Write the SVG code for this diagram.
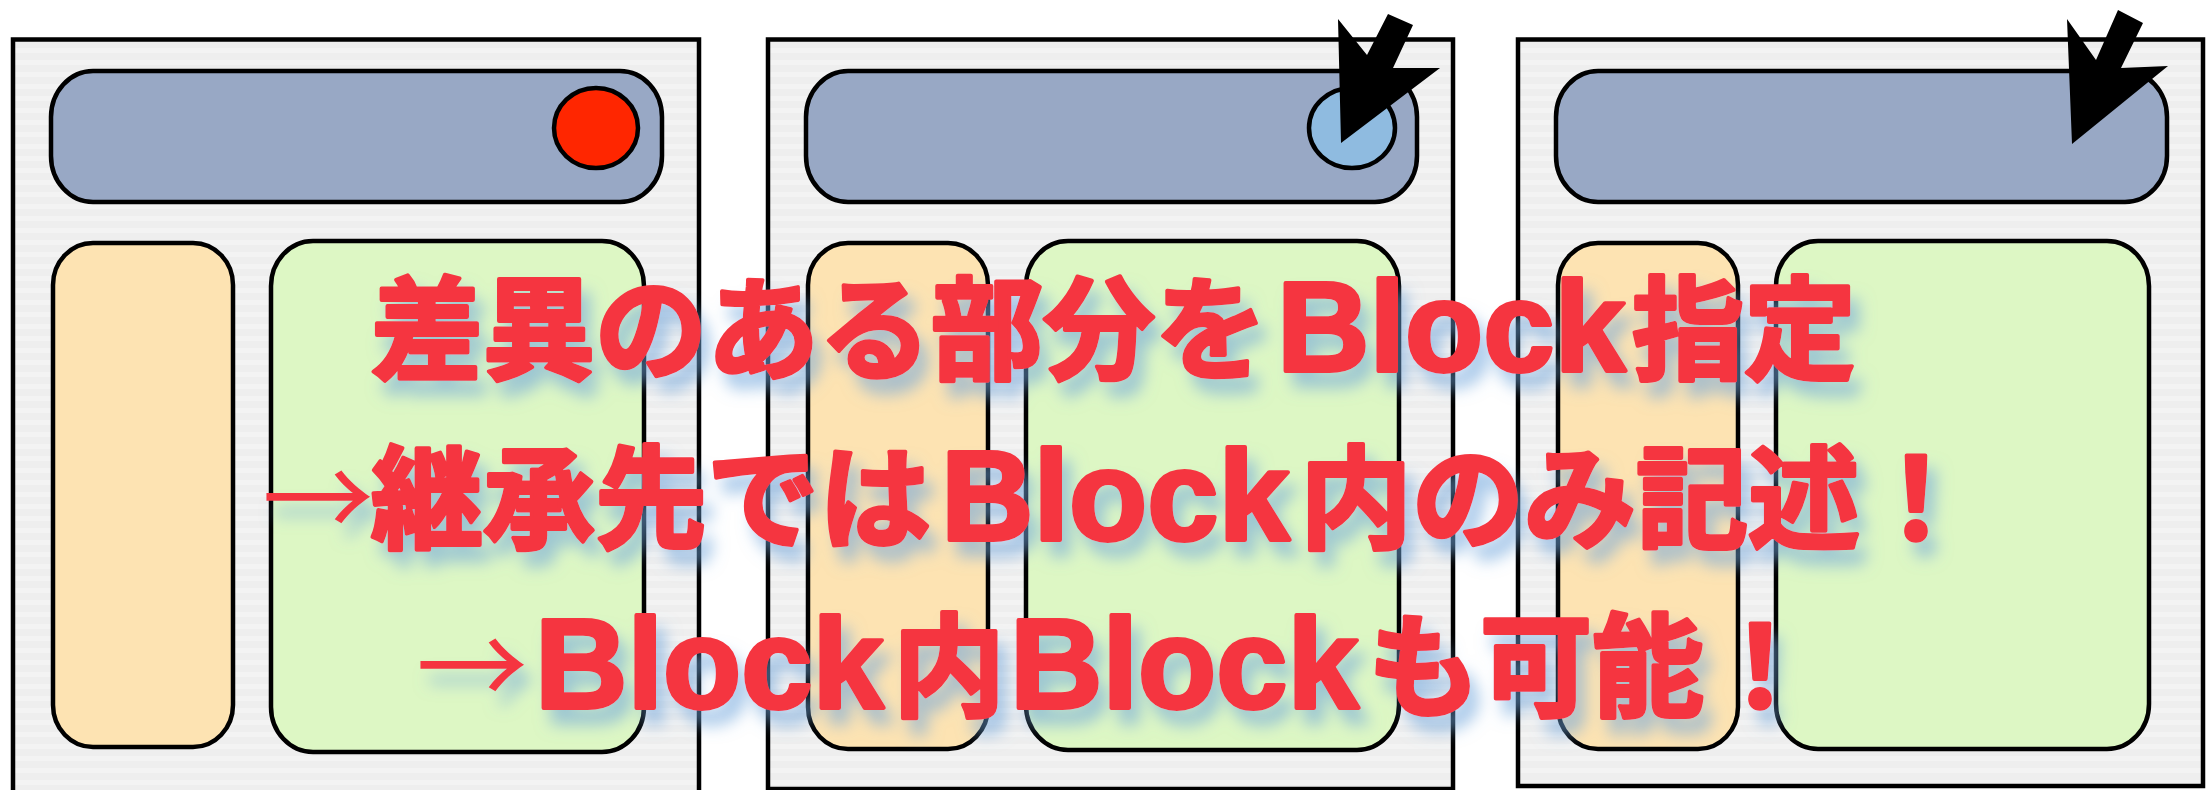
<svg xmlns="http://www.w3.org/2000/svg" width="2206" height="790" viewBox="0 0 2206 790">
  <defs>
    <pattern id="stripes" width="12" height="12" patternUnits="userSpaceOnUse">
      <rect width="12" height="12" fill="#eeeeee"/>
      <rect y="0" width="12" height="5" fill="#f3f3f3"/>
    </pattern>
    <filter id="shadow" x="-10%" y="-30%" width="125%" height="180%">
      <feDropShadow dx="9" dy="15" stdDeviation="8" flood-color="#6fa6dc" flood-opacity="0.6"/>
    </filter>
    <style>
      .panel { fill: url(#stripes); stroke: #000; stroke-width: 4.5; }
      .header { fill: #98a8c5; stroke: #000; stroke-width: 4.5; }
      .side { fill: #fde3b2; stroke: #000; stroke-width: 4.5; }
      .main { fill: #ddf7c4; stroke: #000; stroke-width: 4.5; }
      .dot { stroke: #000; stroke-width: 4.5; }
      .pointer { fill: #000; stroke: none; }
      .cap { fill: #f53641; stroke: #f53641; stroke-width: 4; stroke-linejoin: round; font-family: "Noto Sans CJK JP", sans-serif; font-weight: bold; font-size: 112px; }
      .lat { font-family: "Liberation Sans", "Noto Sans CJK JP", sans-serif; font-weight: bold; font-size: 128px; }
      .arr { font-family: "Noto Sans CJK JP", sans-serif; font-weight: normal; font-size: 112px; stroke-width: 0; }
    </style>
  </defs>

  <g id="panel-1">
    <rect class="panel" x="13" y="39.5" width="686" height="800"/>
    <g id="header-1"><rect class="header" x="51" y="71" width="611" height="131" rx="42" ry="46"/></g>
    <g id="button-1"><ellipse class="dot" cx="596" cy="128" rx="42" ry="40" fill="#ff2600"/></g>
    <g id="side-1"><rect class="side" x="53" y="243" width="180" height="504" rx="40" ry="42"/></g>
    <g id="main-1"><rect class="main" x="271" y="241" width="373" height="511" rx="42" ry="45"/></g>
  </g>

  <g id="panel-2">
    <rect class="panel" x="768" y="39.5" width="685" height="749.5"/>
    <g id="header-2"><rect class="header" x="806" y="71" width="611" height="131" rx="42" ry="46"/></g>
    <g id="button-2"><ellipse class="dot" cx="1352" cy="128" rx="43" ry="40" fill="#8fbbe0"/></g>
    <g id="side-2"><rect class="side" x="808" y="243" width="180" height="506" rx="40" ry="42"/></g>
    <g id="main-2"><rect class="main" x="1026" y="241" width="373" height="509" rx="42" ry="45"/></g>
  </g>

  <g id="panel-3">
    <rect class="panel" x="1518" y="39.5" width="685" height="746.5"/>
    <g id="header-3"><rect class="header" x="1556" y="71" width="611" height="131" rx="42" ry="46"/></g>
    <g id="side-3"><rect class="side" x="1558" y="243" width="180" height="506" rx="40" ry="42"/></g>
    <g id="main-3"><rect class="main" x="1776" y="241" width="373" height="508" rx="42" ry="45"/></g>
  </g>

  <g id="connectors">
    <polygon class="pointer" points="1341,143 1338,19 1367,55 1388,14 1413,25 1393,68 1440,68"/>
    <polygon class="pointer" points="2072,144 2067,19 2096,60 2118,10 2143,23 2121,68 2168,66"/>
  </g>

  <g id="caption" filter="url(#shadow)">
    <text class="cap" y="371"><tspan x="371">差異のある部分を</tspan><tspan class="lat" x="1277">Block</tspan><tspan x="1632">指定</tspan></text>
    <text class="cap" y="540"><tspan class="arr" x="262">→</tspan><tspan x="371">継承先では</tspan><tspan class="lat" x="941">Block</tspan><tspan x="1300">内のみ記述！</tspan></text>
    <text class="cap" y="708"><tspan class="arr" x="416">→</tspan><tspan class="lat" x="535">Block</tspan><tspan x="893">内</tspan><tspan class="lat" x="1010">Block</tspan><tspan x="1368">も可能！</tspan></text>
  </g>
</svg>
